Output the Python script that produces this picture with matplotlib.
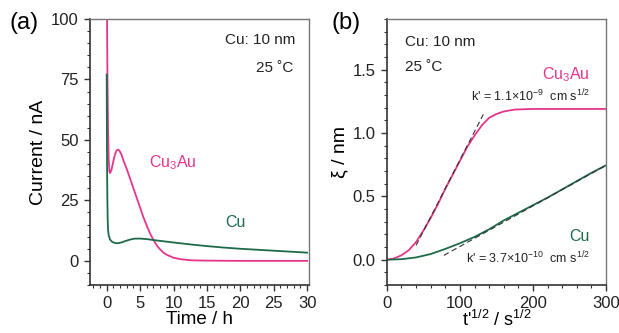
import numpy as np
import matplotlib
matplotlib.use("Agg")
import matplotlib.pyplot as plt
from matplotlib.ticker import MultipleLocator

plt.rcParams['font.family'] = ['Liberation Sans', 'DejaVu Sans']
plt.rcParams['mathtext.fontset'] = 'custom'
plt.rcParams['mathtext.rm'] = 'Liberation Sans'
plt.rcParams['mathtext.it'] = 'Liberation Sans'

pink = '#e6358b'
green = '#1d6b4a'

# (a) current vs time
t_cu3au = [0.0, 0.05, 0.1, 0.2, 0.3, 0.4, 0.5, 0.7, 0.9, 1.1, 1.3, 1.5, 1.7, 1.9,
           2.2, 2.5, 3.0, 3.5, 4.0, 4.5, 5.0, 5.5, 6.0, 6.5, 7.0, 7.5, 8.0, 8.5,
           9.0, 10.0, 11.0, 12.0, 13.0, 15.0, 20.0, 30.0]
i_cu3au = [130, 100, 80, 55, 42, 37, 36.3, 37.5, 40, 42.5, 44.5, 45.7, 46, 45.6,
           44, 41.5, 38, 34, 30, 26, 22, 18, 14.5, 11.3, 8.6, 6.4, 4.7, 3.4,
           2.5, 1.3, 0.7, 0.4, 0.2, 0.1, 0.0, 0.0]

t_cu = [0.0, 0.02, 0.05, 0.1, 0.15, 0.2, 0.3, 0.5, 0.8, 1.2, 1.7, 2.2, 2.8, 3.5,
        4.2, 5.0, 6.0, 7.0, 8.5, 10.0, 12.5, 15.0, 17.5, 20.0, 22.5, 25.0, 27.5, 30.0]
i_cu = [77, 60, 40, 25, 17, 13, 10.5, 8.8, 7.9, 7.4, 7.3, 7.6, 8.2, 8.8,
        9.2, 9.2, 9.0, 8.6, 8.1, 7.6, 6.8, 6.1, 5.5, 5.0, 4.6, 4.2, 3.8, 3.4]

# (b) xi vs t^1/2
s_cu3au = [0, 10, 20, 30, 40, 50, 60, 70, 80, 90, 100, 110, 120, 130, 140, 150,
           160, 175, 200, 250, 300]
xi_cu3au = [0.0, 0.01, 0.035, 0.075, 0.14, 0.23, 0.33, 0.44, 0.56, 0.67, 0.78,
            0.89, 0.98, 1.06, 1.12, 1.15, 1.17, 1.185, 1.19, 1.19, 1.19]

s_cu = [0, 20, 40, 60, 80, 100, 120, 140, 160, 180, 200, 220, 240, 260, 280, 300]
xi_cu = [0.0, 0.004, 0.018, 0.045, 0.085, 0.13, 0.18, 0.24, 0.31, 0.37, 0.43,
         0.49, 0.555, 0.62, 0.685, 0.745]

fit_cu3au_x = [40, 132]
fit_cu3au_y = [0.113, 1.147]
fit_cu_x = [78, 300]
fit_cu_y = [0.034, 0.745]

fig = plt.figure(figsize=(6.19, 3.33), dpi=100)
ax1 = fig.add_axes([0.1454, 0.144, 0.354, 0.799])
ax2 = fig.add_axes([0.625, 0.144, 0.354, 0.799])

ax1.plot(t_cu3au, i_cu3au, color=pink, lw=1.3)
ax1.plot(t_cu, i_cu, color=green, lw=1.3)
ax1.set_xlim(-2.5, 30.3)
ax1.set_ylim(-10, 100)
ax1.set_xticks([0, 5, 10, 15, 20, 25, 30])
ax1.set_yticks([0, 25, 50, 75, 100])
ax1.xaxis.set_minor_locator(MultipleLocator(1))
ax1.yaxis.set_minor_locator(MultipleLocator(5))
ax1.set_xlabel("Time / h", fontsize=13.5, labelpad=0)
ax1.set_ylabel("Current / nA", fontsize=14, labelpad=3)
ax1.text(28.2, 91.3, "Cu: 10 nm", ha='right', va='center', fontsize=11, color='#222222')
ax1.text(28.0, 79.7, "25 ˚C", ha='right', va='center', fontsize=11, color='#222222')
ax1.text(6.3, 40.7, "Cu$_3$Au", ha='left', va='center', fontsize=11.5, color=pink)
ax1.text(17.8, 15.8, "Cu", ha='left', va='center', fontsize=11.5, color=green)

ax2.plot(s_cu3au, xi_cu3au, color=pink, lw=1.3)
ax2.plot(s_cu, xi_cu, color=green, lw=1.3)
ax2.plot(fit_cu3au_x, fit_cu3au_y, color='#333333', lw=0.8, ls=(0, (5, 3)))
ax2.plot(fit_cu_x, fit_cu_y, color='#333333', lw=0.8, ls=(0, (5, 3)))
ax2.set_xlim(0, 300)
ax2.set_ylim(-0.2, 1.9)
ax2.set_xticks([0, 100, 200, 300])
ax2.set_yticks([0.0, 0.5, 1.0, 1.5])
ax2.yaxis.set_major_formatter(plt.FormatStrFormatter('%.1f'))
ax2.xaxis.set_minor_locator(MultipleLocator(20))
ax2.yaxis.set_minor_locator(MultipleLocator(0.1))
ax2.set_xlabel("t'$^{1/2}$ / s$^{1/2}$", fontsize=13, labelpad=-1)
ax2.set_ylabel("ξ / nm", fontsize=14, labelpad=3)
ax2.text(25, 1.72, "Cu: 10 nm", ha='left', va='center', fontsize=11, color='#222222')
ax2.text(25, 1.52, "25 ˚C", ha='left', va='center', fontsize=11, color='#222222')
ax2.text(278, 1.46, "Cu$_3$Au", ha='right', va='center', fontsize=11.5, color=pink)
ax2.text(278, 1.29, "k' = 1.1×10$^{-9}$  cm s$^{1/2}$", ha='right', va='center', fontsize=9, color='#222222')
ax2.text(278, 0.18, "Cu", ha='right', va='center', fontsize=11.5, color=green)
ax2.text(278, 0.01, "k' = 3.7×10$^{-10}$  cm s$^{1/2}$", ha='right', va='center', fontsize=9, color='#222222')

for ax in (ax1, ax2):
    ax.tick_params(which='major', direction='out', length=4.5, width=1, labelsize=12,
                   top=False, right=False, colors='#333333', labelcolor='#222222')
    ax.tick_params(which='minor', direction='out', length=2.2, width=0.8,
                   top=False, right=False, colors='#333333')
    for side in ('left', 'bottom'):
        ax.spines[side].set_color('#333333')
        ax.spines[side].set_linewidth(1.2)
    for side in ('top', 'right'):
        ax.spines[side].set_color('#777777')
        ax.spines[side].set_linewidth(1.0)

fig.text(0.015, 0.93, "(a)", fontsize=17, va='center', ha='left')
fig.text(0.535, 0.93, "(b)", fontsize=17, va='center', ha='left')

fig.savefig("out.png", dpi=100)
